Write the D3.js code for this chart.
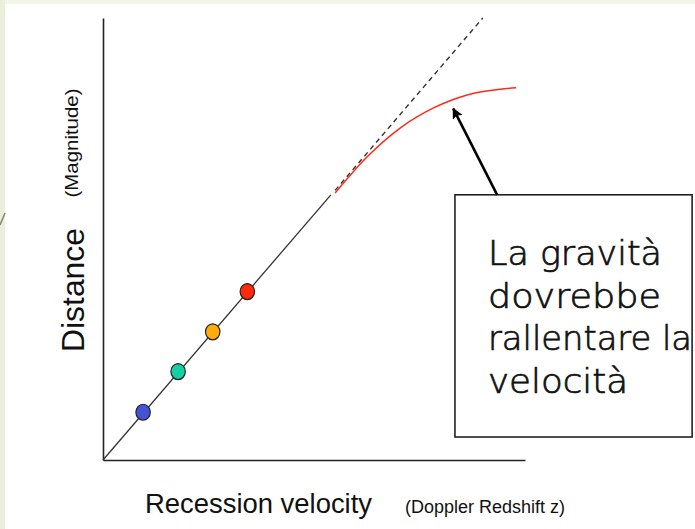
<!DOCTYPE html>
<html>
<head>
<meta charset="utf-8">
<script src="https://cdn.jsdelivr.net/npm/d3@7"></script>
<style>
  html, body { margin: 0; padding: 0; background: #ffffff; }
  svg { display: block; }
</style>
</head>
<body>
<svg id="chart" width="695" height="529"></svg>
<script>
// Hubble-diagram sketch: galaxies on a straight distance/velocity line,
// the naive extrapolation (dashed) and the decelerated curve (red).

// Galaxies on the linear relation
const galaxyNames = ["blue", "teal", "orange", "red"];
const galaxyVelocity = [0.95, 1.78, 2.6, 3.42];
const galaxyDistance = [1.08, 2.0, 2.9, 3.81];
const galaxyColors = ["#4452d6", "#14cfa6", "#ffab0a", "#ff2a0a"];

// Straight relation: solid part, then dashed extrapolation
const linearVelocity = [0, 5.4];
const linearDistance = [0, 6.0];
const extrapVelocity = [5.5, 9.0];
const extrapDistance = [6.1, 10.0];

// Decelerating expansion (red curve)
const slowVelocity = [5.5, 6.26, 7.04, 7.82, 8.63, 9.41, 9.79];
const slowDistance = [6.04, 6.86, 7.51, 7.96, 8.26, 8.39, 8.42];

// Note box and its arrow
const noteLines = ["La gravità", "dovrebbe", "rallentare la", "velocità"];
const noteWidths = [174, 173, 204, 140];
const noteBox = { x0: 8.34, x1: 13.96, y0: 0.52, y1: 6.0 };
const arrowFrom = [9.34, 6.0];
const arrowTo = [8.3, 7.95];

const svg = d3.select("#chart");

// slide background strips
svg.append("rect").attr("x", 0).attr("y", 0).attr("width", 695).attr("height", 4).attr("fill", "#f3f5ea");
svg.append("rect").attr("x", 0).attr("y", 0).attr("width", 5).attr("height", 529).attr("fill", "#e9efda");
svg.append("line").attr("x1", 0).attr("y1", 225).attr("x2", 5).attr("y2", 213)
  .attr("stroke", "#8a8466").attr("stroke-width", 1.5);

const x = d3.scaleLinear().domain([0, 10]).range([103, 525]);
const y = d3.scaleLinear().domain([0, 10]).range([460, 18]);

// axes: bare lines, no ticks
const xAxis = svg.append("g").attr("transform", `translate(0,${y(0)})`)
  .call(d3.axisBottom(x).tickValues([]).tickSizeOuter(0));
const yAxis = svg.append("g").attr("transform", `translate(${x(0)},0)`)
  .call(d3.axisLeft(y).tickValues([]).tickSizeOuter(0));
[xAxis, yAxis].forEach(a => a.select(".domain").attr("stroke", "#222").attr("stroke-width", 1.6));

const line = d3.line().x(d => x(d[0])).y(d => y(d[1]));

svg.append("path")
  .attr("d", line(d3.zip(linearVelocity, linearDistance)))
  .attr("fill", "none").attr("stroke", "#333").attr("stroke-width", 1.3);

svg.append("path")
  .attr("d", line(d3.zip(extrapVelocity, extrapDistance)))
  .attr("fill", "none").attr("stroke", "#333").attr("stroke-width", 1.4)
  .attr("stroke-dasharray", "5,4");

svg.append("path")
  .attr("d", d3.line().x(d => x(d[0])).y(d => y(d[1])).curve(d3.curveMonotoneX)(d3.zip(slowVelocity, slowDistance)))
  .attr("fill", "none").attr("stroke", "#ff2a1a").attr("stroke-width", 1.5);

svg.selectAll("ellipse.galaxy")
  .data(d3.range(galaxyNames.length))
  .join("ellipse")
  .attr("class", "galaxy")
  .attr("cx", i => x(galaxyVelocity[i]))
  .attr("cy", i => y(galaxyDistance[i]))
  .attr("rx", 7.2).attr("ry", 8)
  .attr("fill", i => galaxyColors[i])
  .attr("stroke", "#222").attr("stroke-width", 1.2);

// note box
svg.append("rect")
  .attr("x", x(noteBox.x0)).attr("y", y(noteBox.y1))
  .attr("width", x(noteBox.x1) - x(noteBox.x0))
  .attr("height", y(noteBox.y0) - y(noteBox.y1))
  .attr("fill", "#fff").attr("stroke", "#222").attr("stroke-width", 1.6);

const note = svg.append("g")
  .attr("font-family", "'DejaVu Sans', sans-serif")
  .attr("font-size", 33).attr("font-weight", 200)
  .attr("fill", "#111").attr("stroke", "#111").attr("stroke-width", 0.7);
noteLines.forEach((t, i) => {
  note.append("text").attr("x", 488).attr("y", 265 + i * 42.7)
    .attr("textLength", noteWidths[i]).attr("lengthAdjust", "spacingAndGlyphs")
    .text(t);
});

// arrow
svg.append("defs").append("marker")
  .attr("id", "head").attr("viewBox", "0 0 10 10")
  .attr("refX", 9).attr("refY", 5)
  .attr("markerWidth", 4.2).attr("markerHeight", 4.2)
  .attr("markerUnits", "strokeWidth")
  .attr("orient", "auto")
  .append("path").attr("d", "M0,0 L10,5 L0,10 L2,5 Z").attr("fill", "#000");

svg.append("line")
  .attr("x1", x(arrowFrom[0])).attr("y1", y(arrowFrom[1]))
  .attr("x2", x(arrowTo[0])).attr("y2", y(arrowTo[1]))
  .attr("stroke", "#000").attr("stroke-width", 2.6)
  .attr("marker-end", "url(#head)");

// axis titles
svg.append("text")
  .attr("x", 145).attr("y", 513)
  .attr("font-family", "'Liberation Sans', Arial, sans-serif")
  .attr("font-size", 27).attr("fill", "#111")
  .attr("textLength", 227).attr("lengthAdjust", "spacingAndGlyphs")
  .text("Recession velocity");
svg.append("text")
  .attr("x", 405).attr("y", 513)
  .attr("font-family", "'Liberation Sans', Arial, sans-serif")
  .attr("font-size", 18).attr("fill", "#111")
  .text("(Doppler Redshift z)");

svg.append("text")
  .attr("transform", "translate(84,290) rotate(-90)")
  .attr("text-anchor", "middle")
  .attr("font-family", "'Liberation Sans', Arial, sans-serif")
  .attr("font-size", 32).attr("fill", "#111")
  .attr("textLength", 124).attr("lengthAdjust", "spacingAndGlyphs")
  .text("Distance");
svg.append("text")
  .attr("transform", "translate(78,143) rotate(-90)")
  .attr("text-anchor", "middle")
  .attr("font-family", "'Liberation Sans', Arial, sans-serif")
  .attr("font-size", 18).attr("fill", "#111")
  .attr("textLength", 109).attr("lengthAdjust", "spacingAndGlyphs")
  .text("(Magnitude)");
</script>
</body>
</html>
